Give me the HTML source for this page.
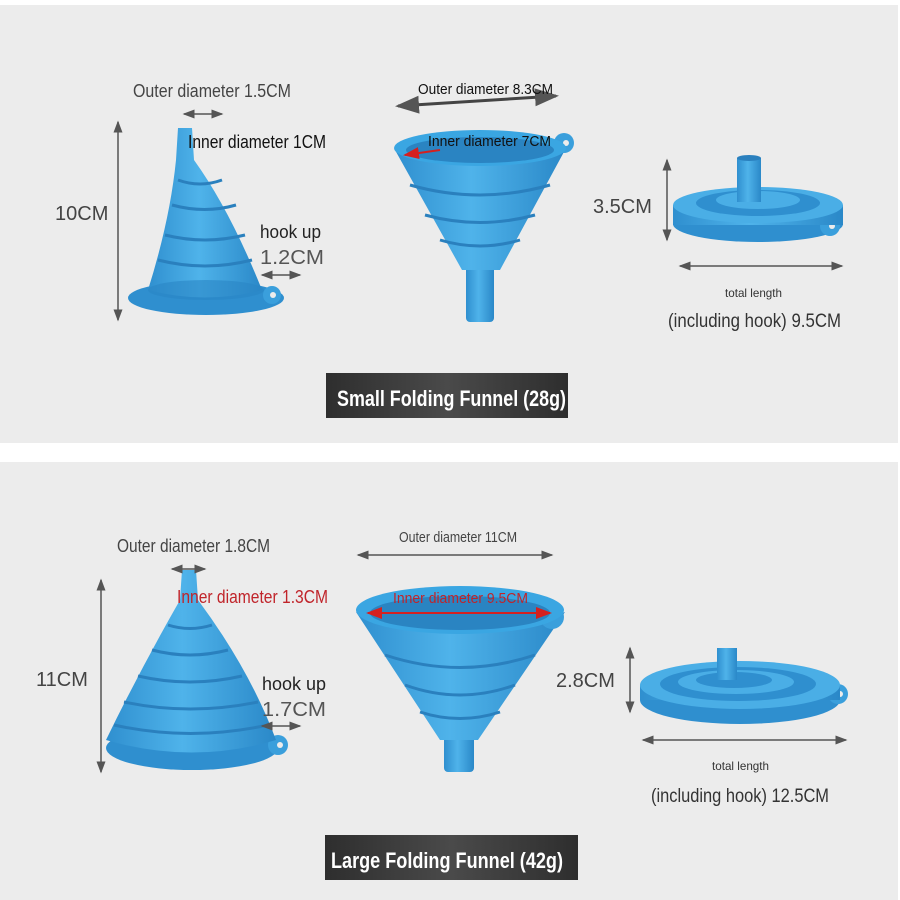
<!DOCTYPE html>
<html><head><meta charset="utf-8"><style>
html,body{margin:0;padding:0;background:#fff;}
svg{display:block;font-family:"Liberation Sans",sans-serif;}
</style></head><body>
<svg width="900" height="900" viewBox="0 0 900 900" xmlns="http://www.w3.org/2000/svg">
<defs>
<linearGradient id="b" x1="0" x2="1" y1="0" y2="0">
<stop offset="0" stop-color="#2f8fcf"/><stop offset="0.45" stop-color="#4fb3ea"/><stop offset="1" stop-color="#2a88c8"/></linearGradient>
<linearGradient id="lbl" x1="0" x2="1"><stop offset="0" stop-color="#2e2e2e"/><stop offset="0.5" stop-color="#4a4a4a"/><stop offset="1" stop-color="#2e2e2e"/></linearGradient>
<marker id="ah" markerWidth="8" markerHeight="8" refX="7" refY="4" orient="auto-start-reverse"><path d="M0,1 L8,4 L0,7z" fill="#555"/></marker>
<marker id="ar" markerWidth="8" markerHeight="8" refX="7" refY="4" orient="auto-start-reverse"><path d="M0,1 L8,4 L0,7z" fill="#d42020"/></marker>
</defs>
<rect x="0" y="5" width="898" height="438" fill="#ececec"/>
<rect x="0" y="462" width="898" height="438" fill="#ececec"/>

<!-- TOP LEFT funnel -->
<ellipse cx="206" cy="298" rx="78" ry="17" fill="#2f8fcf"/>
<circle cx="272" cy="295" r="9" fill="#3a9fdc"/><circle cx="273" cy="295" r="3" fill="#ececec"/>
<path d="M178,128 L192,128 L194,160 Q230,210 262,290 Q205,305 148,290 Q170,220 176,160 Z" fill="url(#b)"/>
<ellipse cx="206" cy="290" rx="58" ry="10" fill="#2a86c4" opacity="0.6"/>
<path d="M165,235 Q205,245 245,235 M158,260 Q205,272 252,260 M172,205 Q205,214 236,205 M178,180 Q200,188 222,180" stroke="#2a80be" stroke-width="3" fill="none"/>
<line x1="118" y1="122" x2="118" y2="320" stroke="#555" stroke-width="1.5" marker-start="url(#ah)" marker-end="url(#ah)"/>
<line x1="184" y1="114" x2="222" y2="114" stroke="#555" stroke-width="1.5" marker-start="url(#ah)" marker-end="url(#ah)"/>
<line x1="262" y1="275" x2="300" y2="275" stroke="#555" stroke-width="1.5" marker-start="url(#ah)" marker-end="url(#ah)"/>
<text x="133" y="97" font-size="18" fill="#444" textLength="158" lengthAdjust="spacingAndGlyphs">Outer diameter 1.5CM</text>
<text x="188" y="148" font-size="18" fill="#111" textLength="138" lengthAdjust="spacingAndGlyphs">Inner diameter 1CM</text>
<text x="55" y="220" font-size="20" fill="#444">10CM</text>
<text x="260" y="238" font-size="18" fill="#222" textLength="61" lengthAdjust="spacingAndGlyphs">hook up</text>
<text x="260" y="264" font-size="20" fill="#555" textLength="64" lengthAdjust="spacingAndGlyphs">1.2CM</text>

<!-- TOP MIDDLE -->
<rect x="466" y="265" width="28" height="57" rx="4" fill="url(#b)"/>
<path d="M395,150 Q480,180 565,150 L500,270 L462,270 Z" fill="url(#b)"/>
<circle cx="564" cy="143" r="10" fill="#3a9fdc"/><circle cx="566" cy="143" r="3" fill="#ececec"/>
<ellipse cx="480" cy="148" rx="86" ry="18" fill="#3aa6e2"/>
<ellipse cx="480" cy="150" rx="74" ry="13" fill="#2a84c2"/>
<path d="M410,185 Q480,205 550,185 M425,215 Q480,230 535,215 M440,240 Q480,252 520,240" stroke="#2a80be" stroke-width="3" fill="none"/>
<line x1="398" y1="106" x2="556" y2="96" stroke="#444" stroke-width="3" marker-start="url(#ah)" marker-end="url(#ah)"/>
<line x1="405" y1="155" x2="440" y2="150" stroke="#d42020" stroke-width="2" marker-start="url(#ar)"/>
<text x="418" y="94" font-size="15" fill="#111" textLength="135" lengthAdjust="spacingAndGlyphs">Outer diameter 8.3CM</text>
<text x="428" y="146" font-size="15" fill="#111" textLength="123" lengthAdjust="spacingAndGlyphs">Inner diameter 7CM</text>

<!-- TOP RIGHT -->
<ellipse cx="758" cy="224" rx="85" ry="18" fill="#2f8fcf"/>
<circle cx="830" cy="226" r="10" fill="#3a9fdc"/><circle cx="832" cy="226" r="3" fill="#ececec"/>
<rect x="673" y="205" width="170" height="20" fill="url(#b)"/>
<ellipse cx="758" cy="205" rx="85" ry="18" fill="#4aaee6"/>
<ellipse cx="758" cy="203" rx="62" ry="13" fill="#2f8fcf"/>
<ellipse cx="758" cy="200" rx="42" ry="9" fill="#4aaee6"/>
<rect x="737" y="158" width="24" height="44" fill="url(#b)"/>
<ellipse cx="749" cy="158" rx="12" ry="3" fill="#2a80be"/>
<line x1="667" y1="160" x2="667" y2="240" stroke="#555" stroke-width="1.5" marker-start="url(#ah)" marker-end="url(#ah)"/>
<line x1="680" y1="266" x2="842" y2="266" stroke="#555" stroke-width="1.5" marker-start="url(#ah)" marker-end="url(#ah)"/>
<text x="593" y="213" font-size="20" fill="#444">3.5CM</text>
<text x="725" y="297" font-size="12" fill="#333" textLength="57" lengthAdjust="spacingAndGlyphs">total length</text>
<text x="668" y="327" font-size="19" fill="#333" textLength="173" lengthAdjust="spacingAndGlyphs">(including hook) 9.5CM</text>

<rect x="326" y="373" width="242" height="45" fill="url(#lbl)"/>
<text x="337" y="406" font-size="22" fill="#fff" font-weight="bold" textLength="229" lengthAdjust="spacingAndGlyphs">Small Folding Funnel (28g)</text>

<!-- BOTTOM LEFT -->
<ellipse cx="192" cy="748" rx="86" ry="22" fill="#2f8fcf"/>
<circle cx="278" cy="745" r="10" fill="#3a9fdc"/><circle cx="280" cy="745" r="3" fill="#ececec"/>
<path d="M182,570 L196,570 L198,600 Q250,670 276,740 Q192,765 106,740 Q140,670 180,600 Z" fill="url(#b)"/>
<path d="M168,625 Q190,632 212,625 M152,650 Q190,660 228,650 M138,676 Q190,688 242,676 M124,702 Q190,716 258,702 M114,725 Q190,742 268,725" stroke="#2a80be" stroke-width="3" fill="none"/>
<line x1="101" y1="580" x2="101" y2="772" stroke="#555" stroke-width="1.5" marker-start="url(#ah)" marker-end="url(#ah)"/>
<line x1="172" y1="569" x2="205" y2="569" stroke="#555" stroke-width="1.5" marker-start="url(#ah)" marker-end="url(#ah)"/>
<line x1="262" y1="726" x2="300" y2="726" stroke="#555" stroke-width="1.5" marker-start="url(#ah)" marker-end="url(#ah)"/>
<text x="117" y="552" font-size="18" fill="#444" textLength="153" lengthAdjust="spacingAndGlyphs">Outer diameter 1.8CM</text>
<text x="177" y="603" font-size="18" fill="#c0242a" textLength="151" lengthAdjust="spacingAndGlyphs">Inner diameter 1.3CM</text>
<text x="36" y="686" font-size="20" fill="#444">11CM</text>
<text x="262" y="690" font-size="18" fill="#222" textLength="64" lengthAdjust="spacingAndGlyphs">hook up</text>
<text x="262" y="716" font-size="20" fill="#555" textLength="64" lengthAdjust="spacingAndGlyphs">1.7CM</text>

<!-- BOTTOM MIDDLE -->
<rect x="444" y="735" width="30" height="37" rx="4" fill="url(#b)"/>
<path d="M356,612 Q460,650 565,612 L478,740 L440,740 Z" fill="url(#b)"/>
<circle cx="552" cy="617" r="12" fill="#3a9fdc"/><circle cx="553" cy="617" r="3" fill="#ececec"/>
<ellipse cx="460" cy="610" rx="104" ry="24" fill="#3aa6e2"/>
<ellipse cx="460" cy="613" rx="90" ry="17" fill="#2a84c2"/>
<path d="M385,655 Q460,680 535,655 M405,685 Q460,705 515,685 M420,712 Q460,725 500,712" stroke="#2a80be" stroke-width="3" fill="none"/>
<line x1="358" y1="555" x2="552" y2="555" stroke="#555" stroke-width="1.5" marker-start="url(#ah)" marker-end="url(#ah)"/>
<line x1="368" y1="613" x2="550" y2="613" stroke="#d42020" stroke-width="2" marker-start="url(#ar)" marker-end="url(#ar)"/>
<text x="399" y="542" font-size="15" fill="#444" textLength="118" lengthAdjust="spacingAndGlyphs">Outer diameter 11CM</text>
<text x="393" y="603" font-size="15" fill="#c0242a" textLength="135" lengthAdjust="spacingAndGlyphs">Inner diameter 9.5CM</text>

<!-- BOTTOM RIGHT -->
<ellipse cx="740" cy="700" rx="100" ry="24" fill="#2f8fcf"/>
<circle cx="838" cy="694" r="10" fill="#3a9fdc"/><circle cx="840" cy="694" r="3" fill="#ececec"/>
<rect x="640" y="685" width="200" height="15" fill="url(#b)"/>
<ellipse cx="740" cy="685" rx="100" ry="24" fill="#4aaee6"/>
<ellipse cx="738" cy="684" rx="78" ry="17" fill="#2f8fcf"/>
<ellipse cx="736" cy="682" rx="58" ry="12" fill="#4aaee6"/>
<ellipse cx="734" cy="680" rx="38" ry="8" fill="#2f8fcf"/>
<rect x="717" y="648" width="20" height="32" fill="url(#b)"/>
<line x1="630" y1="648" x2="630" y2="712" stroke="#555" stroke-width="1.5" marker-start="url(#ah)" marker-end="url(#ah)"/>
<line x1="643" y1="740" x2="846" y2="740" stroke="#555" stroke-width="1.5" marker-start="url(#ah)" marker-end="url(#ah)"/>
<text x="556" y="687" font-size="20" fill="#444">2.8CM</text>
<text x="712" y="770" font-size="12" fill="#333" textLength="57" lengthAdjust="spacingAndGlyphs">total length</text>
<text x="651" y="802" font-size="19" fill="#333" textLength="178" lengthAdjust="spacingAndGlyphs">(including hook) 12.5CM</text>

<rect x="325" y="835" width="253" height="45" fill="url(#lbl)"/>
<text x="331" y="868" font-size="22" fill="#fff" font-weight="bold" textLength="232" lengthAdjust="spacingAndGlyphs">Large Folding Funnel (42g)</text>
</svg>
</body></html>
